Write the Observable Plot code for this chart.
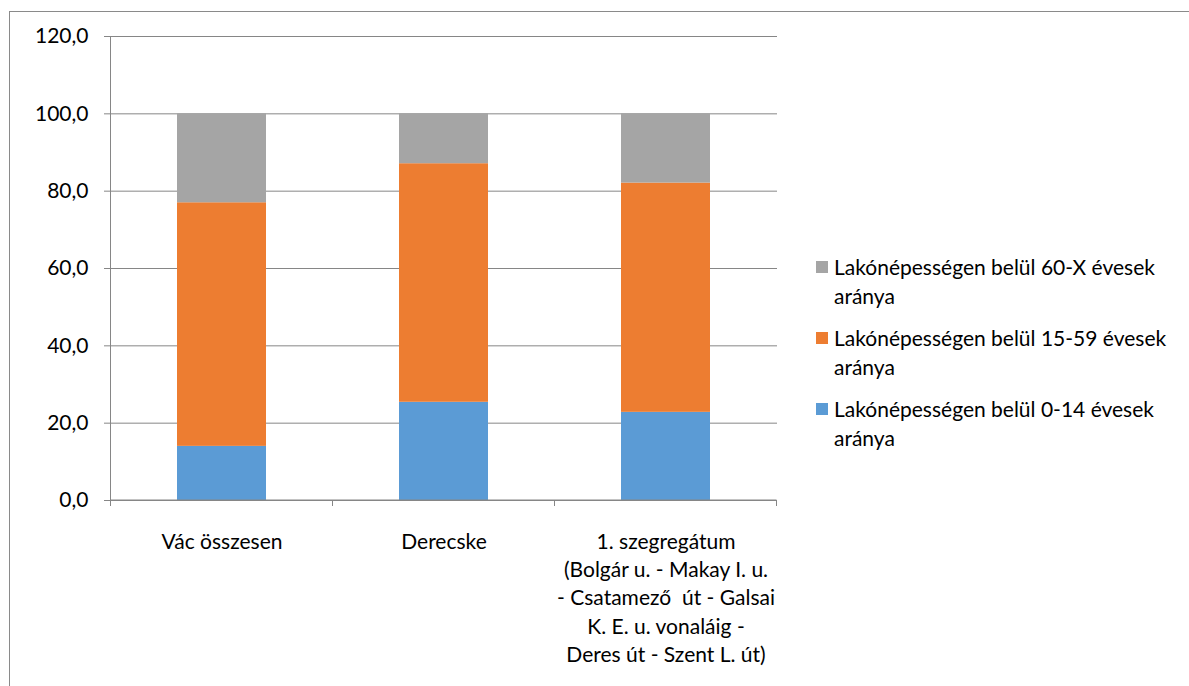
<!DOCTYPE html>
<html>
<head>
<meta charset="utf-8">
<script src="https://cdn.jsdelivr.net/npm/d3@7"></script>
<script src="https://cdn.jsdelivr.net/npm/@observablehq/plot@0.6"></script>
<style>
  html, body { margin: 0; padding: 0; background: #fff; overflow: hidden; }
  #wrap { position: relative; width: 1189px; height: 686px; font-family: Lato, "Open Sans", sans-serif; }
  #frame { position: absolute; left: 9px; top: 11px; width: 1300px; height: 800px; border: 1px solid #8a8a8a; box-sizing: border-box; }
  #chart { position: absolute; left: 0; top: 0; }
  #legend { position: absolute; left: 816px; top: 253px; font-size: 21px; color: #000; }
  .item { position: relative; padding-left: 18px; line-height: 28.5px; margin-bottom: 14px; }
  .sw { position: absolute; left: 0; top: 8px; width: 12px; height: 12px; }
</style>
</head>
<body>
<div id="wrap">
  <div id="frame"></div>
  <div id="chart"></div>
  <div id="legend"></div>
</div>
<script>
const categories = ["Vác összesen", "Derecske", "1. szegregátum"];
const categoryLabels = [
  "Vác összesen",
  "Derecske",
  "1. szegregátum\n(Bolgár u. - Makay I. u.\n- Csatamező  út - Galsai\nK. E. u. vonaláig -\nDeres út - Szent L. út)"
];
const seriesNames = [
  "Lakónépességen belül 0-14 évesek aránya",
  "Lakónépességen belül 15-59 évesek aránya",
  "Lakónépességen belül 60-X évesek aránya"
];
const age0_14 = [14.0, 25.4, 22.8];
const age15_59 = [63.0, 61.7, 59.3];
const age60x = [23.0, 12.9, 17.9];
const colors = ["#5b9bd5", "#ed7d31", "#a5a5a5"];
const yTicks = [0, 20, 40, 60, 80, 100, 120];

const seriesValues = [age0_14, age15_59, age60x];
const rows = [];
seriesValues.forEach((vals, s) => {
  vals.forEach((v, i) => rows.push({cat: categories[i], series: seriesNames[s], value: v}));
});
const labelRows = categories.map((c, i) => ({cat: c, label: categoryLabels[i]}));

const fmt = d => d.toFixed(1).replace(".", ",");
const gridColor = "#868686";

const chart = Plot.plot({
  width: 1189,
  height: 686,
  marginLeft: 110,
  marginRight: 412,
  marginTop: 36,
  marginBottom: 186,
  style: {fontFamily: "Lato, 'Open Sans', sans-serif", fontSize: "21px", color: "#000", background: "transparent"},
  x: {domain: categories, paddingInner: 0.6, paddingOuter: 0.3, label: null, axis: null},
  y: {domain: [0, 120], label: null, axis: null},
  color: {domain: seriesNames, range: colors},
  marks: [
    Plot.ruleY(yTicks, {stroke: gridColor, strokeWidth: 1}),
    Plot.barY(rows, {x: "cat", y: "value", fill: "series", order: seriesNames}),
    Plot.axisY({ticks: yTicks, tickFormat: fmt, tickSize: 6, tickPadding: 16, stroke: gridColor, fontSize: 21, fill: "#000"}),
    Plot.text(labelRows, {x: "cat", y: () => 0, text: "label", lineAnchor: "top", dy: 28, lineHeight: 1.35, fontSize: 21, fill: "#000"})
  ]
});
document.getElementById("chart").appendChild(chart);

// vertical axis line and x-axis band-boundary ticks via the scales
const xs = chart.scale("x");
const ys = chart.scale("y");
const svg = d3.select(chart);
const y0 = ys.apply(0);
const step = xs.step;
const firstCenter = xs.apply(categories[0]) + xs.bandwidth / 2;
const boundaries = [];
for (let i = 0; i <= categories.length; i++) boundaries.push(firstCenter - step / 2 + i * step);
svg.append("line").attr("x1", boundaries[0]).attr("x2", boundaries[0]).attr("y1", ys.apply(120)).attr("y2", y0).attr("stroke", gridColor);
svg.append("line").attr("x1", boundaries[0]).attr("x2", boundaries[boundaries.length - 1]).attr("y1", y0).attr("y2", y0).attr("stroke", gridColor);
boundaries.forEach(b => svg.append("line").attr("x1", b).attr("x2", b).attr("y1", y0).attr("y2", y0 + 6).attr("stroke", gridColor));

const legend = document.getElementById("legend");
[2, 1, 0].forEach(s => {
  const words = seriesNames[s].split(" ");
  const last = words.pop();
  const div = document.createElement("div");
  div.className = "item";
  div.innerHTML = `<span class="sw" style="background:${colors[s]}"></span>${words.join(" ")}<br>${last}`;
  legend.appendChild(div);
});
</script>
</body>
</html>
